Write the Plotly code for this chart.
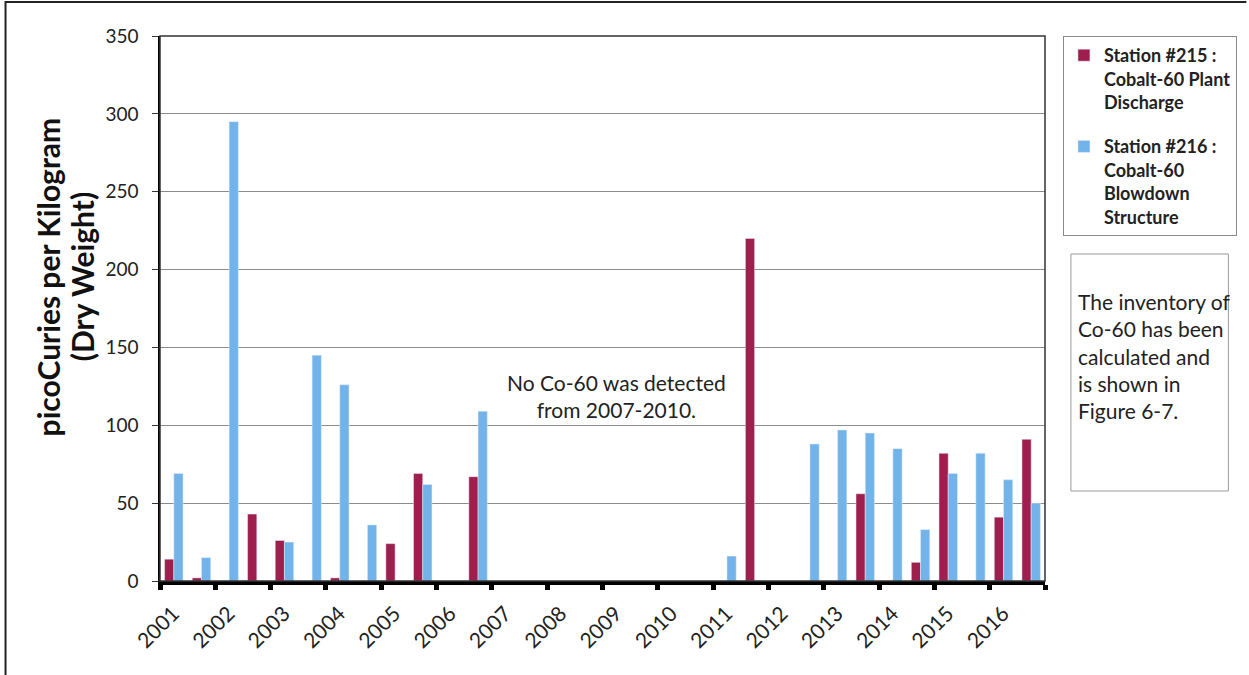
import plotly.graph_objects as go

# ---- data ----
years = ["2001", "2002", "2003", "2004", "2005", "2006", "2007", "2008",
         "2009", "2010", "2011", "2012", "2013", "2014", "2015", "2016"]
# two sampling periods per year (spring / fall)
halves = ["H1", "H2"]
periods = [f"{y} {h}" for y in years for h in halves]

station_215 = [14, 2, 0, 43, 26, 0, 2, 0, 24, 69, 0, 67,
               0, 0, 0, 0, 0, 0, 0, 0,
               0, 220, 0, 0, 0, 56, 0, 12, 82, 0, 41, 91]
station_216 = [69, 15, 295, 0, 25, 145, 126, 36, 0, 62, 0, 109,
               0, 0, 0, 0, 0, 0, 0, 0,
               16, 0, 0, 88, 97, 95, 85, 33, 69, 82, 65, 50]

name_215 = "Station #215 :<br>Cobalt-60 Plant<br>Discharge"
name_216 = "Station #216 :<br>Cobalt-60<br>Blowdown<br>Structure"
y_title_lines = ["picoCuries per Kilogram", "(Dry Weight)"]
note_mid = "No Co-60 was detected<br>from 2007-2010."
note_box = "The inventory of<br>Co-60 has been<br>calculated and<br>is shown in<br>Figure 6-7."

RED = "#9E1F4E"
BLUE = "#72B3E9"
FONT = "Lato"

# numeric positions: each sampling period occupies one unit
xpos = [i + 0.5 for i in range(len(periods))]
n_per_year = len(halves)
label_pos = [k * n_per_year + 0.48 for k in range(len(years))]
boundaries = [k * n_per_year for k in range(len(years) + 1)]

fig = go.Figure()
fig.add_trace(go.Bar(x=xpos, y=station_215, name=name_215, marker_color=RED,
                     legendgroup="a", customdata=periods))
fig.add_trace(go.Bar(x=xpos, y=station_216, name=name_216, marker_color=BLUE,
                     legendgroup="b", customdata=periods))

W, H = 1249, 675
L, R, T, B = 160, 201, 36, 94
pw, ph = W - L - R, H - T - B


def px_x(p):
    return (p - L) / pw


def px_y(p):
    return (H - B - p) / ph


fig.update_layout(
    width=W, height=H,
    margin=dict(l=L, r=R, t=T, b=B, pad=0),
    paper_bgcolor="white", plot_bgcolor="white",
    barmode="group", bargap=0.333, bargroupgap=0,
    font=dict(family=FONT, color="#222222"),
    showlegend=True,
    legend=dict(x=px_x(1066), xanchor="left", y=px_y(36), yanchor="top",
                bordercolor="#8a8a8a", borderwidth=1, bgcolor="white",
                font=dict(size=18, family=FONT, color="#222222", weight="bold"),
                traceorder="grouped", tracegroupgap=18, itemwidth=30,
                valign="top", itemclick=False),
    xaxis=dict(range=[0, len(periods)], tickmode="array", tickvals=label_pos,
               ticktext=years, tickangle=-45, ticks="outside", ticklen=8,
               tickcolor="rgba(0,0,0,0)",
               tickfont=dict(size=21, family=FONT, color="#222222"),
               showline=True, linecolor="black", linewidth=4,
               showgrid=False, zeroline=False,
               minor=dict(tickmode="array", tickvals=boundaries, ticks="outside",
                          ticklen=5, tickwidth=5, tickcolor="black", showgrid=False)),
    yaxis=dict(range=[0, 350], dtick=50, ticks="outside", ticklen=6,
               tickcolor="#333333", tickwidth=1, ticklabelstandoff=10,
               tickfont=dict(size=19, family=FONT, color="#222222"),
               showline=True, linecolor="black", linewidth=1.5,
               showgrid=True, gridcolor="#8c8c8c", gridwidth=1,
               zeroline=False),
)

# plot-area border (top / right)
fig.add_shape(type="rect", xref="paper", yref="paper", x0=0, x1=1, y0=0, y1=1,
              line=dict(color="#333333", width=1.5), layer="above")
# outer frame of the figure (left and top edges)
fig.add_shape(type="path", xref="paper", yref="paper",
              path=f"M {px_x(5)},{px_y(676)} L {px_x(5)},{px_y(2)} L {px_x(1250)},{px_y(2)}",
              line=dict(color="#222222", width=2))
# note box on the right
fig.add_shape(type="rect", xref="paper", yref="paper",
              x0=px_x(1074), x1=px_x(1232), y0=px_y(491), y1=px_y(254),
              line=dict(color="#9a9a9a", width=1))

fig.add_annotation(xref="paper", yref="paper", x=px_x(1079), y=px_y(356),
                   xanchor="left", yanchor="middle", align="left", showarrow=False,
                   text=note_box, font=dict(size=21, family=FONT, color="#222222"))
fig.add_annotation(xref="x", yref="y", x=16.5, y=119, showarrow=False,
                   xanchor="center", yanchor="middle", align="center",
                   text=note_mid, font=dict(size=21, family=FONT, color="#222222"))
# y-axis title (two lines)
for line_text, cx in zip(y_title_lines, (48, 82)):
    fig.add_annotation(xref="paper", yref="paper", x=px_x(cx), y=px_y(277),
                       xanchor="center", yanchor="middle", textangle=-90,
                       showarrow=False, text=line_text,
                       font=dict(size=30, family=FONT, color="#111111", weight="bold"))

fig.write_html("out.html", config={"displayModeBar": False},
               post_script="document.body.style.margin='0px';")
